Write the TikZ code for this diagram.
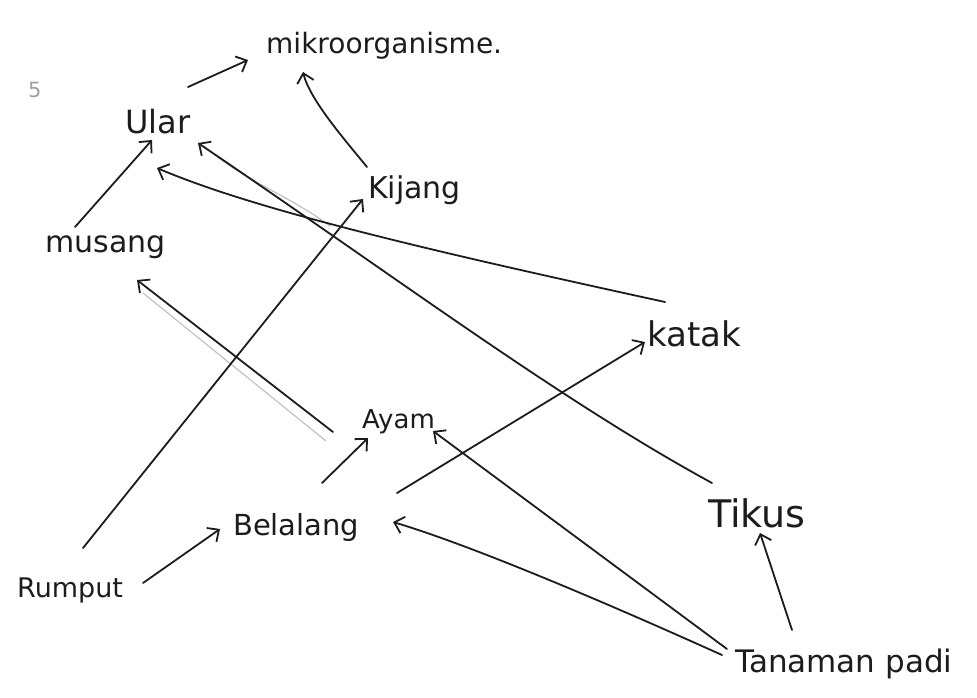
\documentclass[tikz,border=0pt]{standalone}
\usepackage{fontspec}
\setmainfont{DejaVu Sans}
\usetikzlibrary{arrows.meta}
\definecolor{ink}{HTML}{1C1C1C}
\definecolor{ghost}{HTML}{BDBDBD}
\definecolor{faint}{HTML}{A0A0A0}
\begin{document}
\begin{tikzpicture}[x=1pt,y=-1pt,
  lbl/.style={anchor=base west, inner sep=0pt, text=ink, font=\fontsize{#1}{#1}\selectfont},
  lbl/.default=30,
  link/.style={draw=ink, line width=1.8pt, line cap=round, line join=round,
    -{Straight Barb[length=9pt,width=17pt]}},
  ghostline/.style={draw=ghost, line width=1.1pt, line cap=round}]
\useasboundingbox (0,0) rectangle (977,697);
% nodes
\node[lbl=28] (mikro) at (266,53) {mikroorganisme.};
\node[lbl=21, text=faint] (five) at (28,97) {5};
\node[lbl=32] (ular) at (125,133) {Ular};
\node[lbl=30] (kijang) at (368,198) {Kijang};
\node[lbl=30] (musang) at (45,252) {musang};
\node[lbl=34] (katak) at (647,346) {katak};
\node[lbl=26] (ayam) at (362,428) {Ayam};
\node[lbl=29] (belalang) at (233,535) {Belalang};
\node[lbl=38] (tikus) at (708,527) {Tikus};
\node[lbl=27] (rumput) at (17,597) {Rumput};
\node[lbl=31] (padi) at (735,672) {Tanaman padi};
% faint ghost strokes
\draw[ghostline] ([shift={(-36,13)}]ayam.base west) -- ([shift={(98,41)}]musang.base west);
\draw[ghostline] ([shift={(79,13)}]ular.base west) .. controls +(40,35) and +(-40,-30) .. ([shift={(205,93)}]ular.base west);
% connectors
\draw[link] ([shift={(63,-46)}]ular.base west) -- ([shift={(-18,7)}]mikro.base west);
\draw[link] ([shift={(-1,-31)}]kijang.base west) .. controls +(-22,-27) and +(7,28) .. ([shift={(37,19)}]mikro.base west);
\draw[link] ([shift={(30,-25)}]musang.base west) -- ([shift={(27,7)}]ular.base west);
\draw[link] ([shift={(18,-44)}]katak.base west) .. controls +(-215,-47) and +(103,44) .. ([shift={(32,35)}]ular.base west);
\draw[link] ([shift={(4,-44)}]tikus.base west) .. controls +(-152,-83) and +(202,137) .. ([shift={(73,10)}]ular.base west);
\draw[link] ([shift={(66,-49)}]rumput.base west) -- ([shift={(-5,1)}]kijang.base west);
\draw[link] ([shift={(-29,4)}]ayam.base west) -- ([shift={(92,28)}]musang.base west);
\draw[link] ([shift={(89,-52)}]belalang.base west) -- ([shift={(6,10)}]ayam.base west);
\draw[link] ([shift={(126,-14)}]rumput.base west) -- ([shift={(-13,-6)}]belalang.base west);
\draw[link] ([shift={(164,-42)}]belalang.base west) -- ([shift={(-2,-4)}]katak.base west);
\draw[link] ([shift={(-13,-17)}]padi.base west) .. controls +(-122,-55) and +(77,23) .. ([shift={(160,-13)}]belalang.base west);
\draw[link] ([shift={(-8,-23)}]padi.base west) -- ([shift={(71,3)}]ayam.base west);
\draw[link] ([shift={(57,-42)}]padi.base west) -- ([shift={(52,6)}]tikus.base west);
\end{tikzpicture}
\end{document}
